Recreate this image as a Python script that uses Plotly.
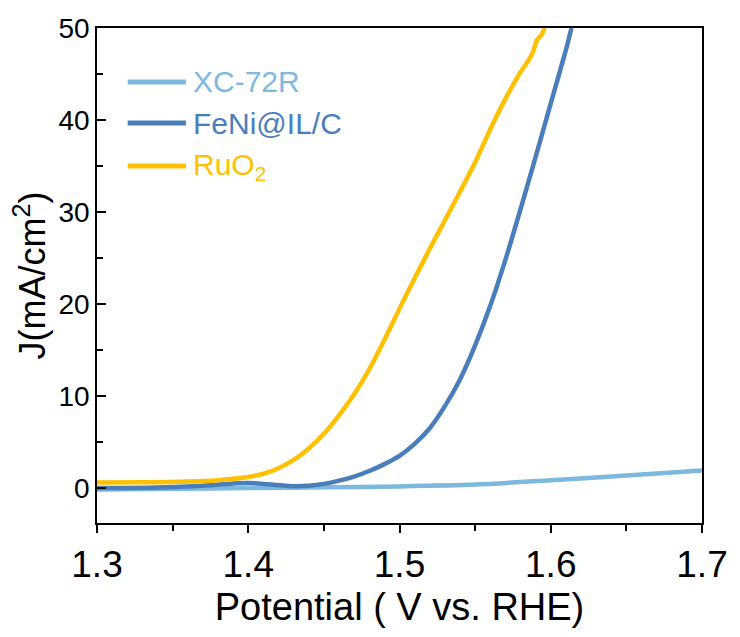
import plotly.graph_objects as go

# ---------------- data ----------------
series_names = ["XC-72R", "FeNi@IL/C", "RuO<sub>2</sub>"]

xc_potential = [1.30, 1.35, 1.40, 1.45, 1.50, 1.55, 1.60, 1.65, 1.70]
xc_current = [-0.15, -0.08, 0.0, 0.08, 0.18, 0.38, 0.85, 1.35, 1.9]

feni_potential = [1.30, 1.34, 1.37, 1.39, 1.40, 1.41, 1.42, 1.43, 1.44, 1.45,
                  1.46, 1.47, 1.48, 1.49, 1.50, 1.51, 1.52, 1.53, 1.54, 1.55,
                  1.56, 1.57, 1.58, 1.59, 1.60, 1.61, 1.6137]
feni_current = [0.0, 0.05, 0.25, 0.5, 0.55, 0.45, 0.3, 0.2, 0.25, 0.45,
                0.8, 1.25, 1.85, 2.6, 3.5, 4.8, 6.5, 8.9, 11.8, 15.5,
                19.8, 24.8, 30.3, 36.0, 41.8, 47.6, 50.0]

ruo2_potential = [1.30, 1.33, 1.36, 1.38, 1.39, 1.40, 1.41, 1.42, 1.43, 1.44,
                  1.45, 1.46, 1.47, 1.48, 1.49, 1.50, 1.51, 1.52, 1.53, 1.54,
                  1.55, 1.56, 1.57, 1.58, 1.585, 1.588, 1.591, 1.594, 1.596]
ruo2_current = [0.6, 0.62, 0.7, 0.85, 1.0, 1.2, 1.55, 2.15, 3.05, 4.3,
                5.9, 7.9, 10.2, 12.9, 16.1, 19.5, 22.8, 26.0, 29.1, 32.2,
                35.4, 39.0, 42.3, 45.2, 46.4, 47.3, 48.7, 49.3, 50.0]

x_ticks = [1.3, 1.4, 1.5, 1.6, 1.7]
y_ticks = [0, 10, 20, 30, 40, 50]

colors = ["#7DB8DE", "#4A7EBB", "#FFC000"]

# ---------------- figure ----------------
fig = go.Figure()
for xs, ys, c, n in zip([xc_potential, feni_potential, ruo2_potential],
                        [xc_current, feni_current, ruo2_current],
                        colors, series_names):
    fig.add_trace(go.Scatter(x=xs, y=ys, mode="lines", name=n,
                             line=dict(color=c, width=4.5, shape="spline", smoothing=0.8),
                             showlegend=False))

# manual legend
leg_y = [0.891, 0.808, 0.721]
for c, n, yy in zip(colors, series_names, leg_y):
    fig.add_shape(type="line", xref="paper", yref="paper",
                  x0=0.0507, x1=0.147, y0=yy, y1=yy,
                  line=dict(color=c, width=5))
    fig.add_annotation(xref="paper", yref="paper", x=0.155, y=yy,
                       text=n, showarrow=False, xanchor="left", yanchor="middle",
                       font=dict(family="Liberation Sans, Arial", size=30, color=c))

fig.update_layout(
    width=740, height=637,
    margin=dict(l=97, r=31, t=28, b=114),
    paper_bgcolor="white", plot_bgcolor="white",
    font=dict(family="Liberation Sans, Arial", color="black"),
)
fig.update_xaxes(
    range=[1.3, 1.7], tickvals=x_ticks, ticktext=[f"{v:.1f}" for v in x_ticks],
    showline=True, linecolor="black", linewidth=1.5, mirror=True,
    ticks="outside", ticklen=8, tickwidth=1.5, tickcolor="black",
    minor=dict(dtick=0.05, tick0=1.3, ticks="outside", ticklen=6, tickwidth=1.5, tickcolor="black"),
    tickfont=dict(size=37), showgrid=False, zeroline=False,
    title=dict(text="Potential ( V vs. RHE)", font=dict(size=38), standoff=9),
)
fig.update_yaxes(
    range=[-3.8, 50], tickvals=y_ticks,
    showline=True, linecolor="black", linewidth=1.5, mirror=True,
    ticks="inside", ticklen=9, tickwidth=1.5, tickcolor="black",
    minor=dict(dtick=5, tick0=0, ticks="inside", ticklen=6, tickwidth=1.5, tickcolor="black"),
    tickfont=dict(size=28), showgrid=False, zeroline=False,
    title=dict(text="J(mA/cm<sup>2</sup>)", font=dict(size=36), standoff=2),
)

fig.write_html("out.html")
